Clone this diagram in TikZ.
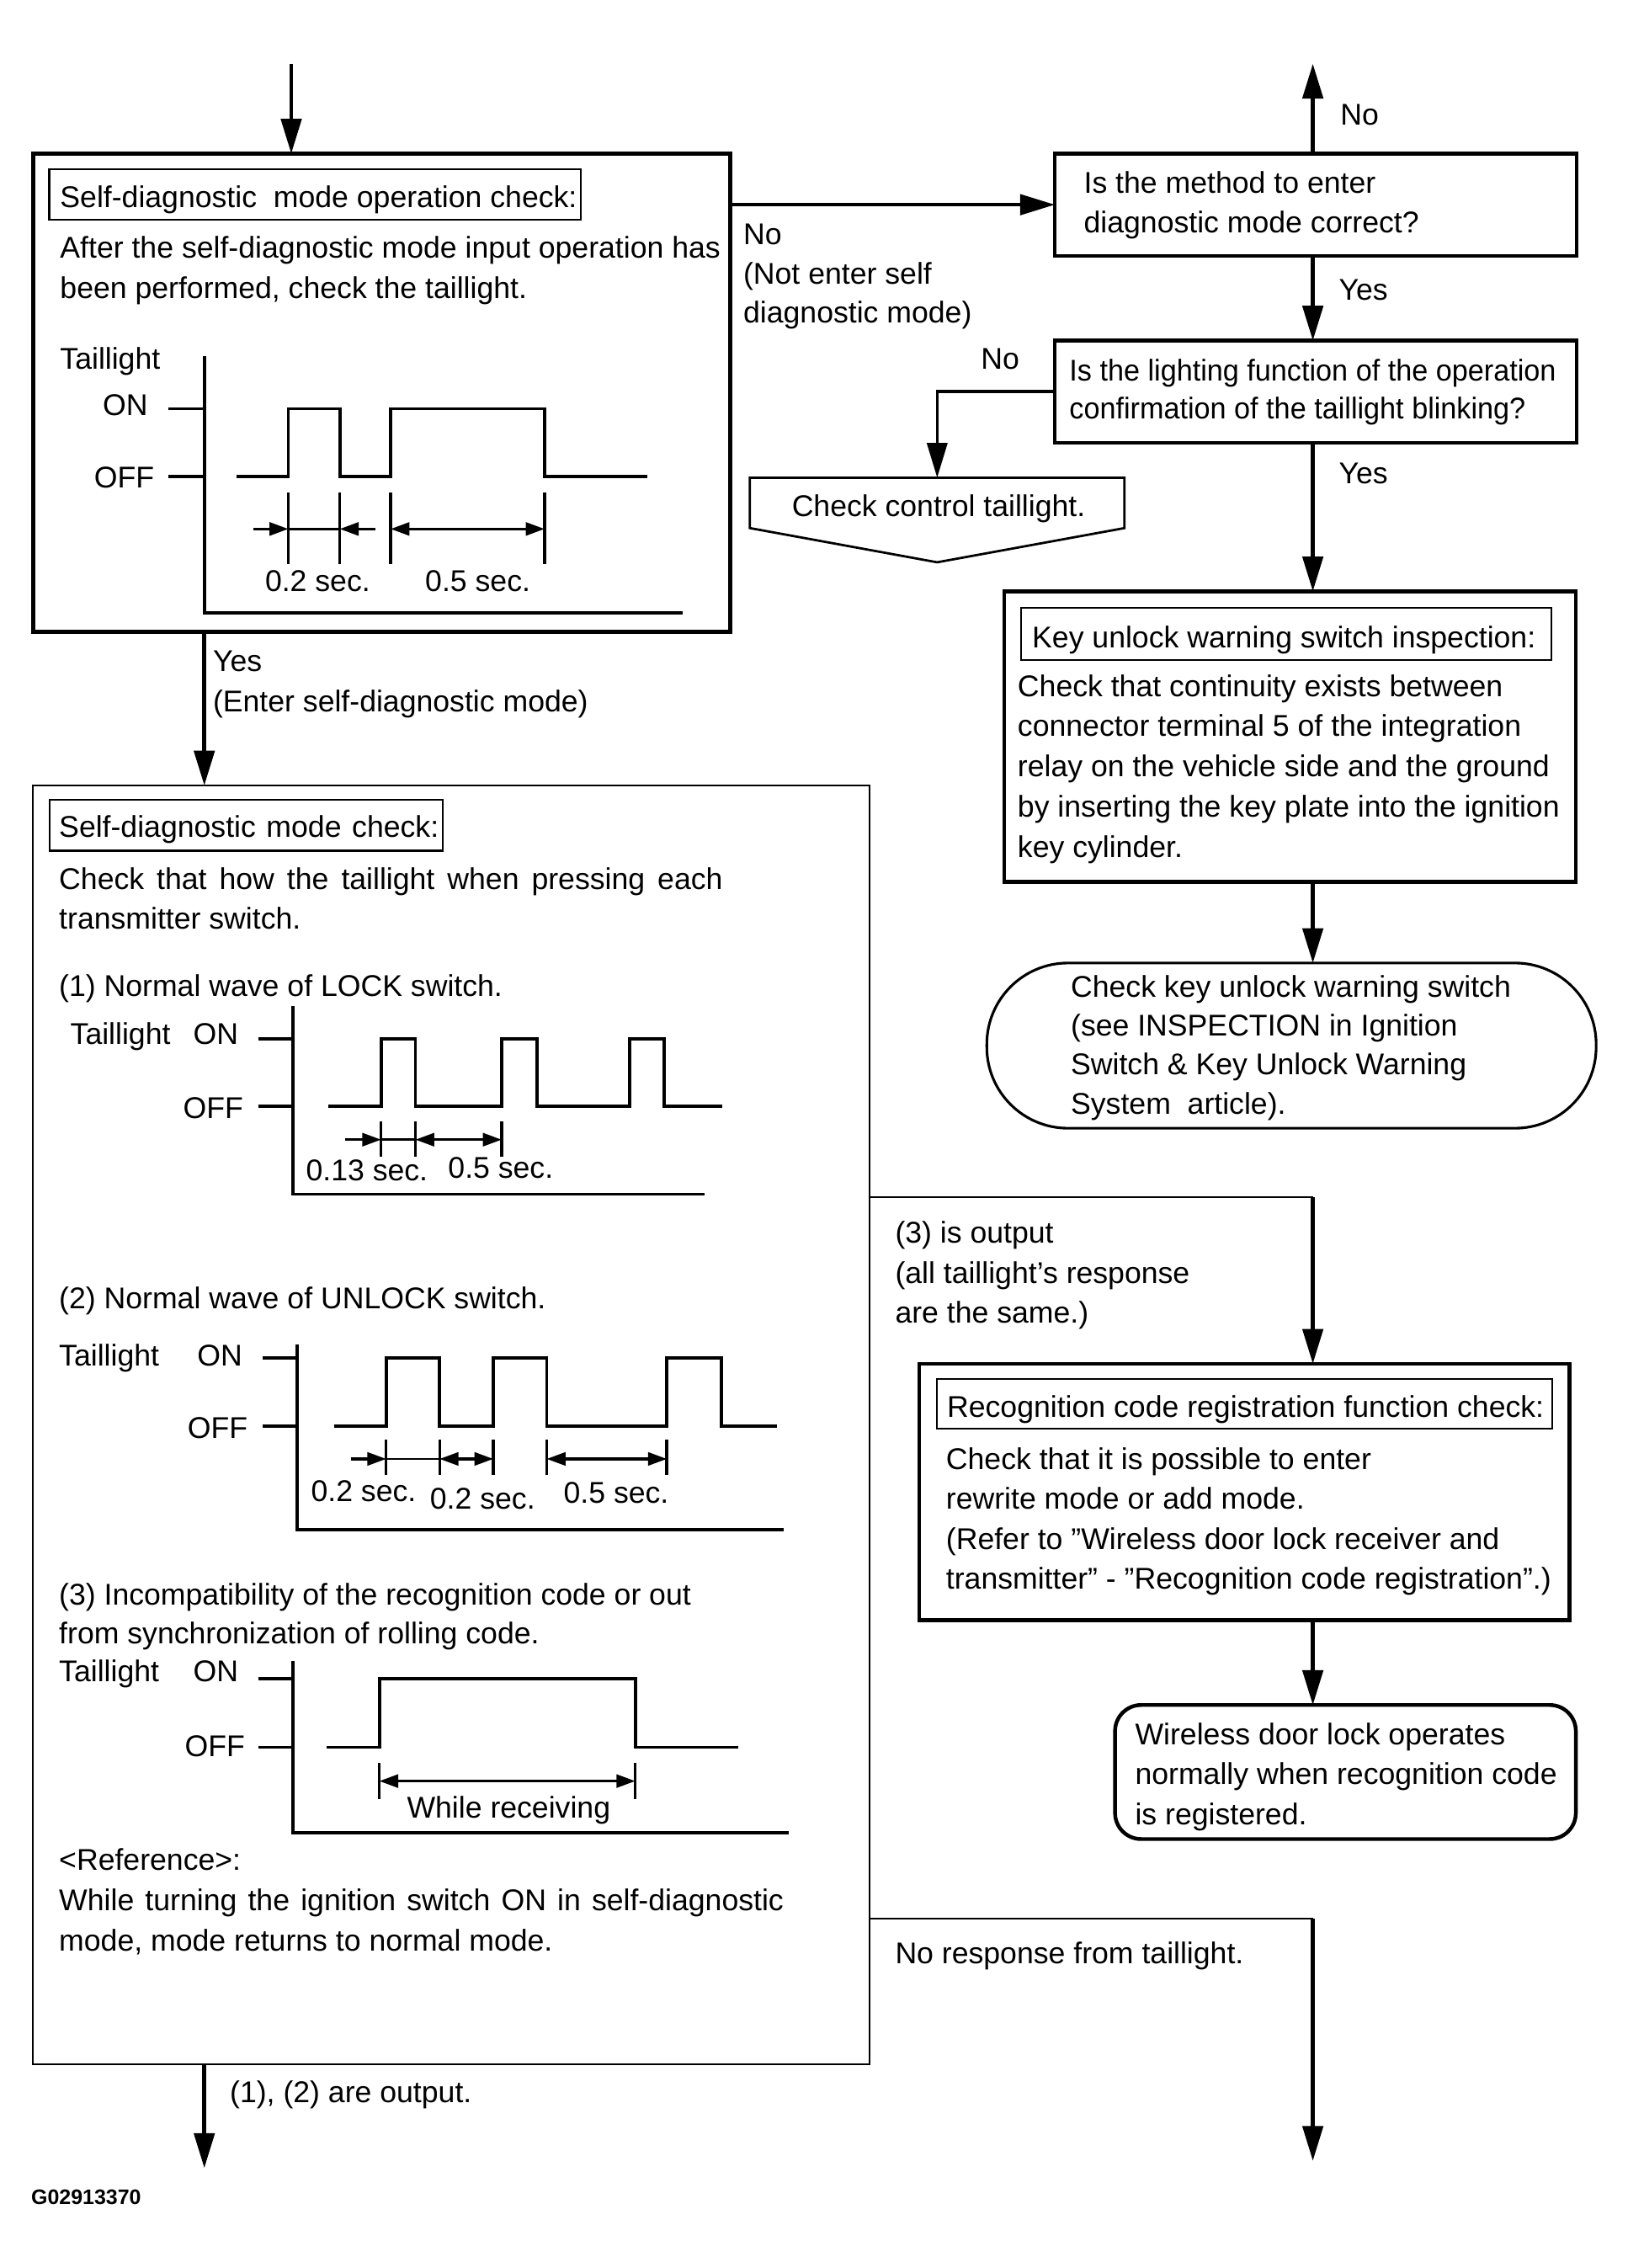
\documentclass[tikz,border=0pt]{standalone}
\usepackage{fontspec}
\setmainfont{Liberation Sans}
\usetikzlibrary{arrows.meta,fit}
\newcommand\txtfont{\fontsize{20.7pt}{27.7pt}\selectfont}
\newcommand\codefont{\fontsize{14.5pt}{16pt}\selectfont\bfseries}
\begin{document}
\begin{tikzpicture}[x=1pt,y=-1pt,
  thk/.style={line width=2.6pt},
  thn/.style={line width=1.3pt},
  arr/.style={line width=2.6pt,-{Triangle[length=24pt,width=14pt]}},
  darr/.style={line width=1.8pt,-{Triangle[length=13pt,width=9pt]}},
  dboth/.style={line width=1.8pt,{Triangle[length=13pt,width=9pt]}-{Triangle[length=13pt,width=9pt]}},
  dline/.style={line width=1.5pt},
  dtick/.style={line width=2pt},
  box/.style={draw,thk,inner sep=0pt,outer sep=0pt},
  tbox/.style={draw,line width=1.2pt,inner sep=0pt,outer sep=0pt},
  txt/.style={anchor=base west,inner sep=0pt,outer sep=0pt,font=\txtfont},
  wave/.style={line width=2.2pt,line join=miter},
]
\useasboundingbox (0,0) rectangle (1123,1565);
\fill[white] (0,0) rectangle (1123,1565);
\coordinate (colL) at (141,0);
\coordinate (colR) at (906,0);
\coordinate (in1) at (201,44);
\coordinate (outNo) at (906,44);
\coordinate (br1) at (906,826);
\coordinate (br2) at (906,1324);
\coordinate (out1) at (141,1496);
\coordinate (out2) at (906,1491);

% ---------- boxes ----------
\node[box,fit={(23,106) (504,436)}] (box1) {};
\node[tbox,fit={(34,117) (401,151.5)}] (t1) {};
\node[box,fit={(728,106) (1088,176.5)}] (box2) {};
\node[box,fit={(728,235) (1088,305.5)}] (box3) {};
\node[inner sep=0pt,outer sep=0pt,fit={(517.5,329.6) (776,364.4)}] (pent) {};
\draw[line width=1.6pt,line join=miter] (pent.north west) -- (pent.north east) -- (pent.south east) -- ([yshift=-23.6pt]pent.south) -- (pent.south west) -- cycle;
\node[box,fit={(693,408) (1087.5,608.5)}] (box4) {};
\node[tbox,fit={(704.6,419.5) (1070.5,455.5)}] (t4) {};
\node[draw,line width=1.8pt,inner sep=0pt,outer sep=0pt,rounded corners=56pt,fit={(681,664.5) (1101.5,778.5)}] (stad) {};
\node[draw,thn,inner sep=0pt,outer sep=0pt,fit={(22.6,542) (600,1424.5)}] (box5) {};
\node[tbox,fit={(34.2,552) (305.6,587)}] (t5) {};
\node[box,fit={(634.5,941) (1083,1118)}] (box6) {};
\node[tbox,fit={(646.5,951.5) (1071,986)}] (t6) {};
\node[box,rounded corners=18pt,fit={(769.5,1176.5) (1087.5,1269)}] (box7) {};

% ---------- connectors ----------
\draw[arr] (in1) -- (in1 |- box1.north);
\draw[arr] (box1.east |- box2.west) -- (box2.west);
\draw[arr] (box2.north -| colR) -- (outNo);
\draw[arr] (box2.south -| colR) -- (box3.north -| colR);
\draw[line width=2pt,-{Triangle[length=24pt,width=14pt]}] (box3.west) -| (pent.north);
\draw[arr] (box3.south -| colR) -- (box4.north -| colR);
\draw[arr] (box4.south -| colR) -- (stad.north -| colR);
\draw[arr] (box1.south -| colL) -- (box5.north -| colL);
\draw[thn] (box5.east |- br1) -- (br1);
\draw[arr] (br1) -- (box6.north -| colR);
\draw[arr] (box6.south -| colR) -- (box7.north -| colR);
\draw[thn] (box5.east |- br2) -- (br2);
\draw[arr] (br2) -- (out2);
\draw[arr] (box5.south -| colL) -- (out1);

% ---------- graph 0 (box 1) ----------
\draw[wave] (141,246) -- (141,423) -- (471,423);
\draw[wave] (116,282) -- (141,282) (116,329) -- (141,329);
\draw[wave] (163.5,329) -- (199,329) -- (199,282) -- (234.5,282) -- (234.5,329) -- (269.6,329) -- (269.6,282) -- (375.8,282) -- (375.8,329) -- (447,329);
\draw[dtick] (199,340) -- (199,389) (234.5,340) -- (234.5,389) (269.6,340) -- (269.6,389) (375.8,340) -- (375.8,389);
\draw[darr] (175,365) -- (199,365);
\draw[dline] (199,365) -- (234.5,365);
\draw[darr] (259,365) -- (234.5,365);
\draw[dboth] (269.6,365) -- (375.8,365);

% ---------- graph 1 ----------
\draw[wave] (202.3,694) -- (202.3,824) -- (486.3,824);
\draw[wave] (178.2,717) -- (202.3,717) (178.2,763.5) -- (202.3,763.5);
\draw[wave] (226.8,763.5) -- (263,763.5) -- (263,717) -- (286.7,717) -- (286.7,763.5) -- (346.2,763.5) -- (346.2,717) -- (370.7,717) -- (370.7,763.5) -- (434.5,763.5) -- (434.5,717) -- (458.2,717) -- (458.2,763.5) -- (498.7,763.5);
\draw[dtick] (263,774) -- (263,798) (286.7,774) -- (286.7,798) (346.2,774) -- (346.2,798);
\draw[darr] (238,786.4) -- (263,786.4);
\draw[dline] (263,786.4) -- (286.7,786.4);
\draw[dboth] (286.7,786.4) -- (346.2,786.4);

% ---------- graph 2 ----------
\draw[wave] (205,927.5) -- (205,1055.6) -- (540.7,1055.6);
\draw[wave] (181.3,937) -- (205,937) (181.3,984) -- (205,984);
\draw[wave] (230.7,984) -- (266.5,984) -- (266.5,937) -- (303.4,937) -- (303.4,984) -- (340.4,984) -- (340.4,937) -- (377.3,937) -- (377.3,984) -- (460.2,984) -- (460.2,937) -- (497.9,937) -- (497.9,984) -- (536,984);
\draw[dtick] (266.5,993.4) -- (266.5,1018) (303.4,993.4) -- (303.4,1018) (340.4,993.4) -- (340.4,1018) (377.3,993.4) -- (377.3,1018) (460.2,993.4) -- (460.2,1018);
\draw[darr] (242,1006.7) -- (266.5,1006.7);
\draw[dline] (266.5,1006.7) -- (303.4,1006.7);
\draw[dboth] (303.4,1006.7) -- (340.4,1006.7);
\draw[dboth] (377.3,1006.7) -- (460.2,1006.7);

% ---------- graph 3 ----------
\draw[wave] (202.3,1146) -- (202.3,1264.5) -- (544.6,1264.5);
\draw[wave] (178.2,1158.5) -- (202.3,1158.5) (178.2,1205.7) -- (202.3,1205.7);
\draw[wave] (225.6,1205.7) -- (261.8,1205.7) -- (261.8,1158.5) -- (438.4,1158.5) -- (438.4,1205.7) -- (509.6,1205.7);
\draw[dtick] (261.8,1216.6) -- (261.8,1241.3) (438.4,1216.6) -- (438.4,1241.3);
\draw[dboth] (261.8,1229) -- (438.4,1229);

% ---------- texts: box 1 ----------
\node[txt] (t1x) at (41.5,143) {Self-diagnostic\ \ mode operation check:};
\node[txt] (b1a) at (41.5,178) {After the self-diagnostic mode input operation has};
\node[txt] (b1b) at (41.5,206) {been performed, check the taillight.};
\node[txt] (g0tl) at (41.5,255) {Taillight};
\node[txt] (g0on) at (71,286.5) {ON};
\node[txt] (g0off) at (65,336.5) {OFF};
\node[txt] (g0d1) at (183,408) {0.2 sec.};
\node[txt] (g0d2) at (293.5,408) {0.5 sec.};

% ---------- texts: top right ----------
\node[txt] (lno1a) at (513,169) {No};
\node[txt] (lno1b) at (513,196) {(Not enter self};
\node[txt] (lno1c) at (513,223) {diagnostic mode)};
\node[txt] (lno0) at (925,86) {No};
\node[txt] (b2a) at (748,133.4) {Is the method to enter};
\node[txt] (b2b) at (748,160.6) {diagnostic mode correct?};
\node[txt] (lyes1) at (924,207) {Yes};
\node[txt] (b3a) at (738,262.6) {\addfontfeatures{FakeStretch=0.96}Is the lighting function of the operation};
\node[txt] (b3b) at (738,289) {\addfontfeatures{FakeStretch=0.96}confirmation of the taillight blinking?};
\node[txt] (lno2) at (677,254.5) {No};
\node[txt] (pentx) at (546.5,356.5) {Check control taillight.};
\node[txt] (lyes2) at (924,334) {Yes};
\node[txt] (t4x) at (712.3,447) {Key unlock warning switch inspection:};
\foreach \s [count=\i from 0] in {{Check that continuity exists between},{connector terminal 5 of the integration},{relay on the vehicle side and the ground},{by inserting the key plate into the ignition},{key cylinder.}}
  \node[txt] (b4l\i) at (702.3,{480.6+27.7*\i}) {\s};
\foreach \s [count=\i from 0] in {{Check key unlock warning switch},{(see INSPECTION in Ignition},{Switch \& Key Unlock Warning},{System\ \ article).}}
  \node[txt] (st\i) at (739,{688+26.9*\i}) {\s};

% ---------- texts: box 5 ----------
\node[txt] (lyes3a) at (147,463) {Yes};
\node[txt] (lyes3b) at (147,491) {(Enter self-diagnostic mode)};
\node[txt] (t5x) at (40.8,578) {\makebox[262pt][s]{Self-diagnostic mode check:}};
\node[txt] (b5a) at (40.8,614) {\makebox[458pt][s]{Check that how the taillight when pressing each}};
\node[txt] (b5b) at (40.8,641) {transmitter switch.};
\node[txt] (b5c) at (40.8,687.5) {(1) Normal wave of LOCK switch.};
\node[txt] (g1tl) at (48.6,720.5) {Taillight};
\node[txt] (g1on) at (133.4,720.5) {ON};
\node[txt] (g1off) at (126.4,771.6) {OFF};
\node[txt] (g1d1) at (211.2,815) {0.13 sec.};
\node[txt] (g1d2) at (309.3,813) {0.5 sec.};
\node[txt] (b5d) at (40.8,903) {(2) Normal wave of UNLOCK switch.};
\node[txt] (g2tl) at (40.8,942.3) {Taillight};
\node[txt] (g2on) at (136.2,942.3) {ON};
\node[txt] (g2off) at (129.5,992.6) {OFF};
\node[txt] (g2d1) at (214.7,1036.3) {0.2 sec.};
\node[txt] (g2d2) at (296.8,1041) {0.2 sec.};
\node[txt] (g2d3) at (389,1037.4) {0.5 sec.};
\node[txt] (b5e) at (40.8,1107.5) {(3) Incompatibility of the recognition code or out};
\node[txt] (b5f) at (40.8,1134) {from synchronization of rolling code.};
\node[txt] (g3tl) at (40.8,1160.3) {Taillight};
\node[txt] (g3on) at (133.4,1160.3) {ON};
\node[txt] (g3off) at (127.6,1212) {OFF};
\node[txt] (g3d) at (280.9,1254.3) {While receiving};
\node[txt] (b5g) at (40.8,1290.7) {<Reference>:};
\node[txt] (b5h) at (40.8,1318.5) {\makebox[500pt][s]{While turning the ignition switch ON in self-diagnostic}};
\node[txt] (b5i) at (40.8,1346.3) {mode, mode returns to normal mode.};
\node[txt] (lout1) at (158.7,1451) {(1), (2) are output.};
\node[anchor=base west,inner sep=0pt,font=\codefont] (code) at (21.4,1521) {G02913370};

% ---------- texts: lower right ----------
\node[txt] (l3a) at (617.8,858) {(3) is output};
\node[txt] (l3b) at (617.8,885.5) {(all taillight’s response};
\node[txt] (l3c) at (617.8,913) {are the same.)};
\node[txt] (t6x) at (653.6,978) {Recognition code registration function check:};
\foreach \s [count=\i from 0] in {{Check that it is possible to enter},{rewrite mode or add mode.},{(Refer to ”Wireless door lock receiver and},{transmitter” - ”Recognition code registration”.)}}
  \node[txt] (b6l\i) at (652.9,{1014+27.5*\i}) {\s};
\foreach \s [count=\i from 0] in {{Wireless door lock operates},{normally when recognition code},{is registered.}}
  \node[txt] (b7l\i) at (783.4,{1204+27.5*\i}) {\s};
\node[txt] (lnr) at (617.8,1355) {No response from taillight.};
\end{tikzpicture}
\end{document}
